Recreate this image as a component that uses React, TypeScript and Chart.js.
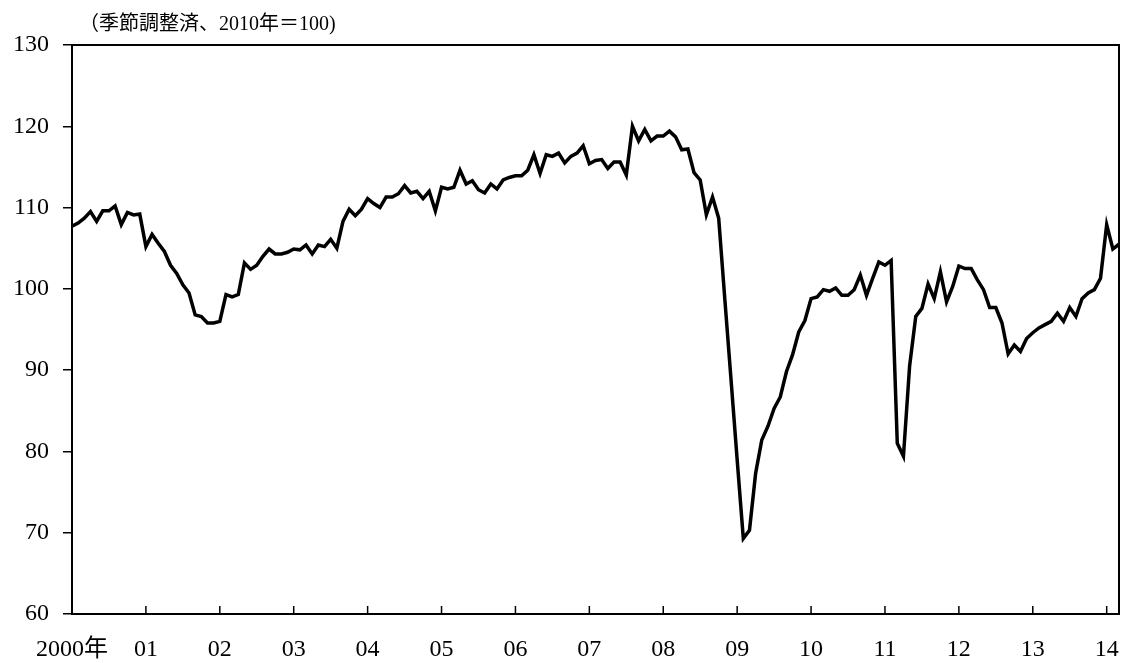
import { useEffect, useRef } from 'react';
import { Chart, registerables } from 'chart.js';

Chart.register(...registerables);

const chartTitle = '（季節調整済、2010年＝100)';

const yearLabels = ['2000年', '01', '02', '03', '04', '05', '06', '07', '08', '09', '10', '11', '12', '13', '14'];

const monthsPerYear = 12;

// Monthly index, Jan 2000 – Mar 2014
const indexValues = [
  107.7, 108.1, 108.7, 109.5, 108.3, 109.6, 109.6, 110.2, 107.9, 109.4, 109.1, 109.2,
  105.2, 106.7, 105.6, 104.6, 102.9, 101.9, 100.5, 99.5, 96.8, 96.6, 95.8, 95.8,
  96.0, 99.3, 99.0, 99.3, 103.2, 102.4, 102.9, 104.0, 104.9, 104.3, 104.3, 104.5,
  104.9, 104.8, 105.4, 104.3, 105.4, 105.2, 106.1, 105.0, 108.3, 109.8, 109.0, 109.8,
  111.1, 110.5, 110.0, 111.3, 111.3, 111.7, 112.7, 111.8, 112.0, 111.1, 112.0, 109.6,
  112.5, 112.3, 112.5, 114.6, 112.9, 113.3, 112.2, 111.8, 112.9, 112.3, 113.4, 113.7,
  113.9, 113.9, 114.6, 116.5, 114.2, 116.5, 116.3, 116.7, 115.5, 116.3, 116.7, 117.6,
  115.4, 115.8, 115.9, 114.8, 115.6, 115.6, 114.0, 120.0, 118.2, 119.6, 118.2, 118.8,
  118.8, 119.4, 118.7, 117.1, 117.2, 114.3, 113.4, 109.1, 111.3, 108.7, 98.7, 88.9,
  79.0, 69.3, 70.3, 77.3, 81.4, 83.1, 85.3, 86.7, 89.8, 91.9, 94.7, 96.1,
  98.8, 99.0, 99.9, 99.7, 100.1, 99.2, 99.2, 99.9, 101.7, 99.2, 101.3, 103.3,
  102.9, 103.5, 81.0, 79.4, 90.5, 96.6, 97.6, 100.6, 98.8, 102.1, 98.4, 100.3,
  102.8, 102.5, 102.5, 101.1, 99.9, 97.7, 97.7, 95.8, 92.0, 93.1, 92.3, 93.9,
  94.6, 95.2, 95.6, 96.0, 97.0, 96.0, 97.7, 96.6, 98.8, 99.5, 99.9, 101.3,
  107.9, 104.9, 105.5,
];

const yMin = 60;
const yMax = 130;
const yStep = 10;

const FONT = '"Liberation Serif", "Noto Sans CJK JP", serif';

const framePlugin = {
  id: 'frame',
  afterDraw(chart: any) {
    const { ctx, chartArea: a, scales } = chart;
    ctx.save();
    ctx.strokeStyle = '#000';
    ctx.lineWidth = 2;
    ctx.strokeRect(a.left, a.top, a.right - a.left, a.bottom - a.top);
    const xs = scales.x;
    ctx.lineWidth = 1.5;
    xs.ticks.forEach((t: any) => {
      const px = xs.getPixelForValue(t.value);
      ctx.beginPath();
      ctx.moveTo(px, a.bottom);
      ctx.lineTo(px, a.bottom - 8);
      ctx.stroke();
    });
    ctx.font = `20px ${FONT}`;
    ctx.fillStyle = '#000';
    ctx.textBaseline = 'middle';
    ctx.textAlign = 'left';
    ctx.fillText(chartTitle, a.left + 7, 25);
    ctx.restore();
  },
};

export default function App() {
  const canvasRef = useRef<HTMLCanvasElement | null>(null);

  useEffect(() => {
    const canvas = canvasRef.current;
    if (!canvas) return;
    const chart = new Chart(canvas, {
      type: 'line',
      data: {
        datasets: [
          {
            data: indexValues.map((v, i) => ({ x: i, y: v })),
            borderColor: '#000',
            borderWidth: 3.5,
            pointRadius: 0,
            tension: 0,
            fill: false,
          },
        ],
      },
      options: {
        animation: false,
        responsive: false,
        events: [],
        layout: { padding: { top: 45, right: 7, left: 0, bottom: 0 } },
        plugins: {
          legend: { display: false },
          tooltip: { enabled: false },
          title: { display: false },
        },
        scales: {
          x: {
            type: 'linear',
            min: 0,
            max: indexValues.length - 1,
            afterFit: (s: any) => {
              s.height = 49;
              s.paddingLeft = 0;
              s.paddingRight = 0;
            },
            grid: { display: false },
            border: { display: true, color: '#000', width: 2 },
            ticks: {
              stepSize: monthsPerYear,
              includeBounds: false,
              autoSkip: false,
              maxRotation: 0,
              padding: 13,
              color: '#000',
              font: { family: FONT, size: 24 },
              callback: (v: any) => {
                const n = Number(v);
                return n % monthsPerYear === 0 ? yearLabels[n / monthsPerYear] : '';
              },
            },
          },
          y: {
            type: 'linear',
            min: yMin,
            max: yMax,
            afterFit: (s: any) => {
              s.width = 72;
              s.paddingTop = 0;
              s.paddingBottom = 0;
            },
            grid: {
              drawOnChartArea: false,
              drawTicks: true,
              tickLength: 9,
              color: '#000',
              lineWidth: 1.5,
            },
            border: { display: true, color: '#000', width: 2 },
            ticks: {
              stepSize: yStep,
              autoSkip: false,
              padding: 14,
              color: '#000',
              font: { family: FONT, size: 24 },
            },
          },
        },
      },
      plugins: [framePlugin],
    });
    return () => chart.destroy();
  }, []);

  return (
    <div style={{ position: 'fixed', left: 0, top: 0, width: 1126, height: 663, background: '#fff' }}>
      <canvas ref={canvasRef} width={1126} height={663} />
    </div>
  );
}
